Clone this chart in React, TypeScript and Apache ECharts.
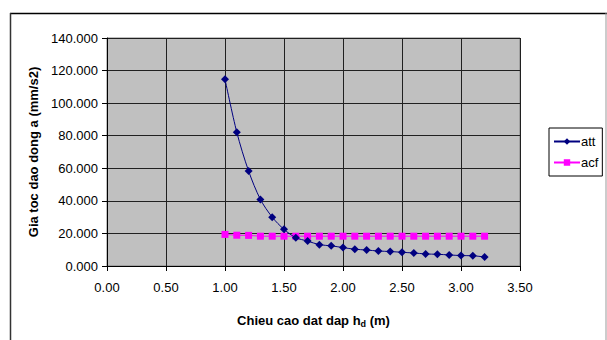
import React, { useEffect, useRef } from "react";
import * as echarts from "echarts";

const hValues = [1.0, 1.1, 1.2, 1.3, 1.4, 1.5, 1.6, 1.7, 1.8, 1.9, 2.0, 2.1, 2.2, 2.3, 2.4, 2.5, 2.6, 2.7, 2.8, 2.9, 3.0, 3.1, 3.2];
const attValues = [114.7, 82.1, 58.3, 40.9, 30.0, 22.5, 17.4, 15.3, 13.1, 12.4, 11.3, 10.3, 9.8, 9.2, 8.9, 8.4, 8.0, 7.4, 7.2, 6.8, 6.4, 6.3, 5.5];
const acfValues = [19.4, 18.9, 18.8, 18.3, 18.3, 18.3, 18.3, 18.3, 18.3, 18.3, 18.3, 18.3, 18.3, 18.3, 18.3, 18.3, 18.3, 18.3, 18.3, 18.3, 18.3, 18.3, 18.3];
const seriesNames = ["att", "acf"];
const xTitle = "Chieu cao dat dap h{sub|d} (m)";
const yTitle = "Gia toc dao dong a (mm/s2)";

const FONT = "'Liberation Sans', Arial, sans-serif";

export default function App() {
  const ref = useRef<HTMLDivElement>(null);
  useEffect(() => {
    const chart = echarts.init(ref.current!, null, { renderer: "svg" });
    chart.setOption({
      animation: false,
      textStyle: { fontFamily: FONT },
      grid: {
        left: 107,
        right: 87,
        top: 38,
        bottom: 74,
        show: true,
        backgroundColor: "#c0c0c0",
        borderColor: "#808080",
        borderWidth: 1,
      },
      legend: {
        orient: "vertical",
        left: 549,
        top: 128,
        padding: [7, 4, 7, 4],
        itemGap: 8,
        itemWidth: 26,
        itemHeight: 8,
        borderColor: "#000",
        borderWidth: 1,
        backgroundColor: "#fff",
        textStyle: { fontFamily: FONT, fontSize: 13, color: "#000", padding: [0, 0, 0, -4] },
        data: seriesNames,
      },
      xAxis: {
        type: "value",
        min: 0,
        max: 3.5,
        interval: 0.5,
        name: xTitle,
        nameLocation: "middle",
        nameGap: 46,
        nameTextStyle: {
          fontFamily: FONT,
          fontSize: 13,
          fontWeight: "bold",
          color: "#000",
          rich: {
            sub: { fontSize: 9, fontWeight: "bold", verticalAlign: "bottom", padding: [7, 0, 0, 0], fontFamily: FONT },
          },
        },
        axisLine: { show: true, onZero: false, lineStyle: { color: "#000" } },
        axisTick: { show: true, length: 5, inside: false, lineStyle: { color: "#000" } },
        axisLabel: {
          fontFamily: FONT,
          fontSize: 13,
          color: "#000",
          margin: 15,
          formatter: (v: number) => v.toFixed(2),
        },
        splitLine: { show: true, lineStyle: { color: "#202020", width: 1 } },
      },
      yAxis: {
        type: "value",
        min: 0,
        max: 140,
        interval: 20,
        name: yTitle,
        nameLocation: "middle",
        nameGap: 65,
        nameTextStyle: { fontFamily: FONT, fontSize: 13, fontWeight: "bold", color: "#000" },
        axisLine: { show: true, lineStyle: { color: "#000" } },
        axisTick: { show: true, length: 5, inside: false, lineStyle: { color: "#000" } },
        axisLabel: {
          fontFamily: FONT,
          fontSize: 13,
          color: "#000",
          margin: 9,
          formatter: (v: number) => v.toFixed(3),
        },
        splitLine: { show: true, lineStyle: { color: "#202020", width: 1 } },
      },
      series: [
        {
          name: seriesNames[0],
          type: "line",
          smooth: 0.3,
          data: hValues.map((h, i) => [h, attValues[i]]),
          symbol: "diamond",
          symbolSize: 8,
          showSymbol: true,
          itemStyle: { color: "#000080" },
          lineStyle: { color: "#000080", width: 1 },
          z: 3,
        },
        {
          name: seriesNames[1],
          type: "line",
          data: hValues.map((h, i) => [h, acfValues[i]]),
          symbol: "rect",
          symbolSize: 7,
          showSymbol: true,
          itemStyle: { color: "#ff00ff" },
          lineStyle: { color: "#ff00ff", width: 1 },
          z: 2,
        },
      ],
      graphic: [
        { type: "line", shape: { x1: 10, y1: 13.5, x2: 607, y2: 13.5 }, style: { stroke: "#000", lineWidth: 1.5 } },
        { type: "line", shape: { x1: 10.5, y1: 13, x2: 10.5, y2: 340 }, style: { stroke: "#333", lineWidth: 1.5 } },
        { type: "line", shape: { x1: 606, y1: 13, x2: 606, y2: 340 }, style: { stroke: "#999", lineWidth: 1 } },
      ],
    });
    return () => chart.dispose();
  }, []);
  return <div ref={ref} style={{ width: 607, height: 340, position: "absolute", left: 0, top: 0 }} />;
}
